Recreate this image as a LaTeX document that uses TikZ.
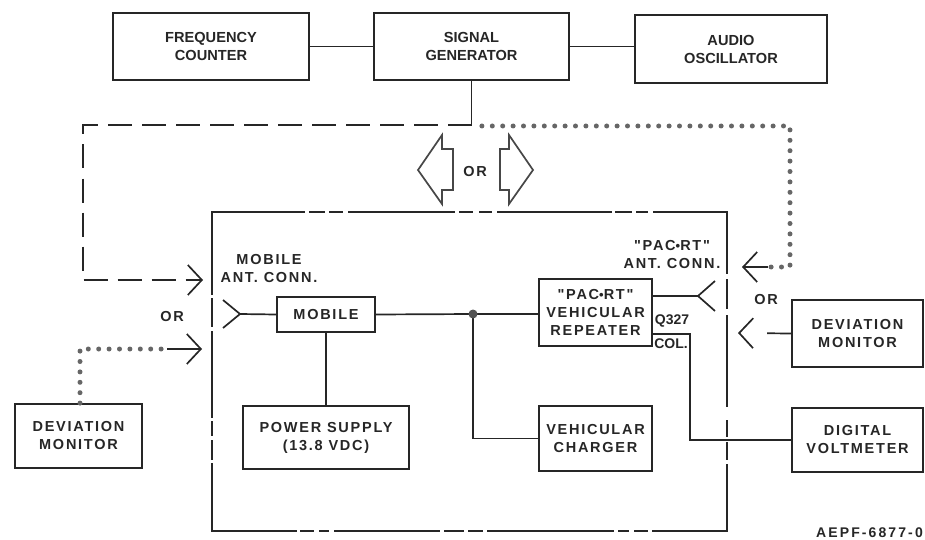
\documentclass[tikz,border=0pt]{standalone}
\usepackage{fontspec}
\setmainfont{Liberation Sans}
\newfontfamily\labfont{Liberation Sans}[LetterSpace=12]
\newfontfamily\tagfont{Liberation Sans}[LetterSpace=15]
\usetikzlibrary{arrows.meta,calc}
\definecolor{ink}{gray}{0.15}
\definecolor{dotc}{gray}{0.4}
\begin{document}
\begin{tikzpicture}[x=1pt,y=-1pt,
  every node/.style={text=ink},
  topbox/.style={draw=ink,line width=1.8pt,inner sep=0pt,align=center,
    font=\fontsize{14.6}{18}\selectfont\bfseries},
  labbox/.style={draw=ink,line width=1.8pt,inner sep=0pt,align=center,
    font=\labfont\fontsize{14.5}{18}\selectfont\bfseries},
  conn/.style={draw=ink,line width=1.7pt},
  brd/.style={draw=ink,line width=1.9pt},
  dotline/.style={draw=dotc,line width=5pt,line cap=round,dash pattern=on 0pt off 10.4pt},
  dashline/.style={draw=ink,line width=1.7pt,dash pattern=on 24pt off 10pt},
  barb/.style={-{Straight Barb[length=14pt,width=30pt]}},
  lab/.style={inner sep=0pt,align=center,font=\labfont\fontsize{14.5}{18}\selectfont\bfseries},
  blockarr/.style={draw=ink!85,line width=1.7pt,fill=white,line join=miter}
]
\useasboundingbox (0,0) rectangle (925,540);

% top row
\node[topbox,minimum width=196pt,minimum height=67pt] (fc) at (211,46.5) {FREQUENCY\\COUNTER};
\node[topbox,minimum width=195pt,minimum height=67pt] (sg) at (471.5,46.5) {SIGNAL\\GENERATOR};
\node[topbox,minimum width=192pt,minimum height=68pt] (ao) at (731,49) {AUDIO\\OSCILLATOR};
\draw[conn] (fc.east) -- (sg.west);
\draw[conn] (sg.east) -- (ao.west |- sg.east);
\coordinate (split) at (471.5,125);
\draw[conn] (sg.south) -- (split);

% inner boxes
\node[labbox,minimum width=98pt,minimum height=35pt] (mob) at (326,314.5) {MOBILE};
\node[labbox,minimum width=113pt,minimum height=67pt] (rep) at (595.5,312.5) {"PAC{\fontsize{13}{13}\selectfont\raisebox{0.5pt}{•}}RT"\\VEHICULAR\\REPEATER};
\node[labbox,minimum width=166pt,minimum height=63pt] (ps) at (326,437.5) {POWER SUPPLY\\(13.8 VDC)};
\node[labbox,minimum width=113pt,minimum height=65pt] (chg) at (595.5,438.5) {VEHICULAR\\CHARGER};
\node[labbox,minimum width=131pt,minimum height=64pt] (dvm) at (857.5,440) {DIGITAL\\VOLTMETER};
\node[labbox,minimum width=131pt,minimum height=67pt] (dm2) at (857.5,333.5) {DEVIATION\\MONITOR};
\node[labbox,minimum width=127pt,minimum height=64pt] (dm1) at (78.5,436) {DEVIATION\\MONITOR};

% labels
\node[lab] (mlab) at (269,269) {MOBILE\\ANT. CONN.};
\node[lab] (plab) at (672,255) {"PAC{\fontsize{13}{13}\selectfont\raisebox{0.5pt}{•}}RT"\\ANT. CONN.};
\node[lab] (or1) at (172,317) {OR};
\node[lab] (or2) at (766,300) {OR};
\node[lab] (or3) at (475,172) {OR};
\node[inner sep=0pt,font=\fontsize{14}{16}\selectfont\bfseries] (q) at (672,321) {Q327};
\node[inner sep=0pt,font=\fontsize{14}{16}\selectfont\bfseries] (col) at (671,344) {COL.};
\node[inner sep=0pt,anchor=east,font=\tagfont\fontsize{14}{16}\selectfont\bfseries] (tag) at (923,533) {AEPF-6877-0};

% antennas
\coordinate (antL) at (240,314);
\coordinate (antR) at (698,296);
\draw[conn] (223,300) -- (antL) -- (223,328);
\draw[conn] (antL) -- (mob.west);
\draw[conn] (715,281) -- (antR) -- (715,311);
\draw[conn] (rep.east |- antR) -- (antR);

% internal connections
\coordinate (jc) at (473,314);
\draw[conn] (mob.east) -- (jc) -- (rep.west |- jc);
\draw[conn] (jc) |- (chg.west);
\fill[ink!80] (jc) circle (4.5pt);
\draw[conn] (mob.south) -- (ps.north);
\draw[conn] (rep.east |- 0,334) -- (690,334) -- (690,440) -- (dvm.west);

% big enclosure (broken line)
\draw[brd] (212,295) -- (212,212) -- (305,212);
\draw[brd] (653,212) -- (727,212) -- (727,274);
\draw[brd] (212,463) -- (212,531) -- (297,531);
\draw[brd] (652,531) -- (727,531) -- (727,464);
\foreach \a/\b in {309/325,329/343,348/455,459/473,479/492,497/612,615/632,636/648}
  \draw[brd] (\a,212) -- (\b,212);
\foreach \a/\b in {300/314,319/329,334/440,444/464,468/483,487/614,618/629,634/648}
  \draw[brd] (\a,531) -- (\b,531);
\foreach \a/\b in {298/327,331/418,421/436,440/460}
  \draw[brd] (212,\a) -- (212,\b);
\foreach \a/\b in {279/309,315/407,420/437,442/460}
  \draw[brd] (727,\a) -- (727,\b);

% OR block arrows
\draw[blockarr] (418,170) -- (442,135) -- (442,149) -- (453,149) -- (453,190) -- (442,190) -- (442,204) -- cycle;
\draw[blockarr] (533,170) -- (509,135) -- (509,149) -- (500,149) -- (500,190) -- (509,190) -- (509,204) -- cycle;

% dashed route (left)
\coordinate (tipL1) at (203,280);
\draw[dashline,barb] (split) -- (83,125) -- (83,280) -- (tipL1);

% dotted route (right)
\coordinate (dR) at (768,267);
\coordinate (tipR1) at (742,267);
\draw[dotline] (481.9,126) -- (790,126) -- (790,267) -- (dR);
\draw[conn,barb] (dR) -- (tipR1);

% dotted route from left deviation monitor
\coordinate (dL) at (167,349);
\coordinate (tipL2) at (202,349);
\draw[dotline] (dm1.north -| 80,0) -- (80,349) -- (dL);
\draw[conn,barb] (dL) -- (tipL2);

% right deviation monitor arrow
\coordinate (tipR2) at (738,333);
\draw[conn,dash pattern=on 24pt off 200pt,barb] (dm2.west) -- (tipR2);
\end{tikzpicture}
\end{document}
